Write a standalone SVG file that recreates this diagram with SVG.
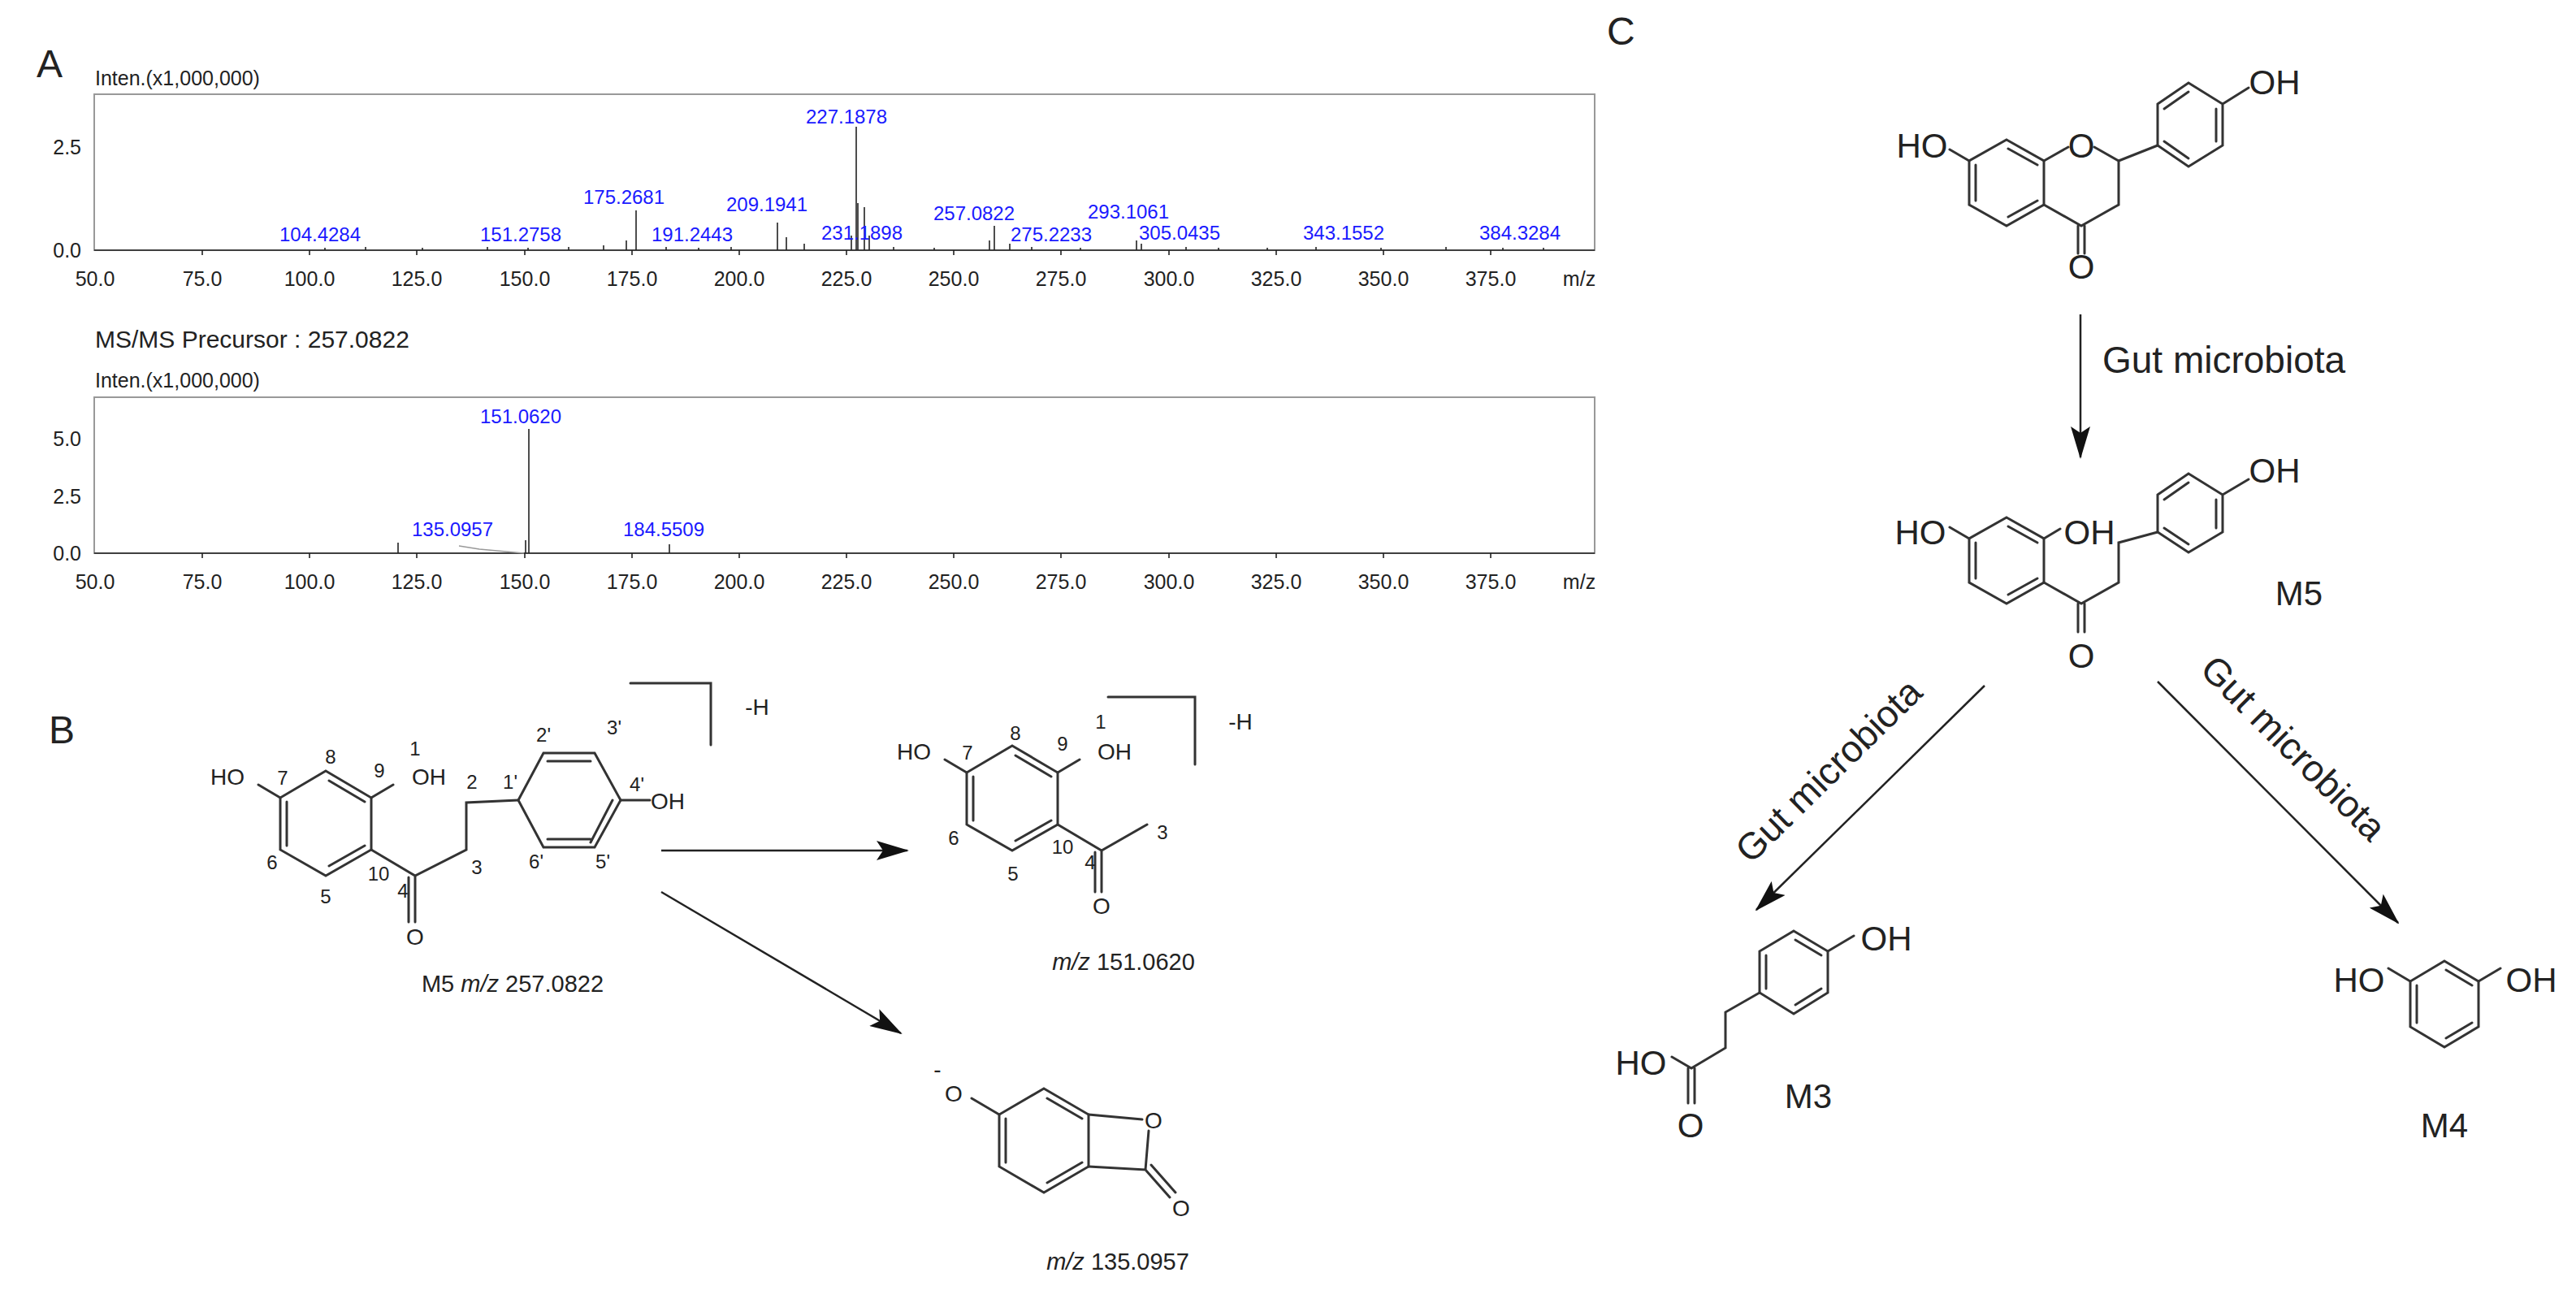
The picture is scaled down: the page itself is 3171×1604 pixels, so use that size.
<svg xmlns="http://www.w3.org/2000/svg" width="3171" height="1604" viewBox="0 0 3171 1604">
<defs>
<style>
text{font-family:"Liberation Sans",Arial,sans-serif;fill:#222}
.pl{font-size:48px}
.ax{font-size:25px}
.pk{font-size:24px;fill:#1a1aff;text-anchor:middle}
.b{fill:none;stroke:#333;stroke-width:3;stroke-linecap:round}
.sp{fill:none;stroke:#222;stroke-width:1.6}
.box{fill:none;stroke:#999;stroke-width:2}
.bt{font-size:28px;text-anchor:middle}
.bn{font-size:24px;text-anchor:middle}
.ct{font-size:42px;text-anchor:middle}
.gm{font-size:46px}
.ar{fill:none;stroke:#222;stroke-width:2.5}
</style>
<marker id="ah" viewBox="0 0 40 24" refX="38" refY="12" markerWidth="40" markerHeight="24" orient="auto" markerUnits="userSpaceOnUse"><path d="M0,0 L40,12 L0,24 L8,12 z" fill="#111"/></marker>
</defs>

<g id="panelA">
<text class="pl" x="45" y="95">A</text>
<text class="ax" x="117" y="105">Inten.(x1,000,000)</text>
<rect class="box" x="116" y="116" width="1847" height="192"/>
<line class="sp" x1="116" y1="308" x2="1963" y2="308"/>
<text class="ax" x="100" y="190" text-anchor="end">2.5</text>
<text class="ax" x="100" y="317" text-anchor="end">0.0</text>
<g class="ax" text-anchor="middle">
<text x="117" y="352">50.0</text><text x="249" y="352">75.0</text><text x="381" y="352">100.0</text><text x="513" y="352">125.0</text><text x="646" y="352">150.0</text><text x="778" y="352">175.0</text><text x="910" y="352">200.0</text><text x="1042" y="352">225.0</text><text x="1174" y="352">250.0</text><text x="1306" y="352">275.0</text><text x="1439" y="352">300.0</text><text x="1571" y="352">325.0</text><text x="1703" y="352">350.0</text><text x="1835" y="352">375.0</text><text x="1944" y="352">m/z</text>
</g>
<path class="sp" d="M249,308v6M381,308v6M513,308v6M646,308v6M778,308v6M910,308v6M1042,308v6M1174,308v6M1306,308v6M1439,308v6M1571,308v6M1703,308v6M1835,308v6"/>
<path class="sp" d="M1054,308V156M1056,308V250M783,308V259M771,308V296M957,308V274M968,308V292M1064,308V255M1070,308V290M1224,308V278M1218,308V296M1243,308V300M1399,308V296M1405,308V300M990,308V300M743,308V302M1048,308V290"/>
<path class="sp" stroke-width="1" d="M400,308v-3M450,308v-4M520,308v-3M600,308v-4M650,308v-3M700,308v-4M820,308v-4M860,308v-3M900,308v-4M1100,308v-4M1150,308v-3M1270,308v-4M1330,308v-3M1460,308v-4M1500,308v-3M1560,308v-3M1620,308v-4M1700,308v-3M1780,308v-4M1850,308v-3M1900,308v-3"/>
<text class="pk" x="1042" y="152">227.1878</text>
<text class="pk" x="768" y="251">175.2681</text>
<text class="pk" x="944" y="260">209.1941</text>
<text class="pk" x="1199" y="271">257.0822</text>
<text class="pk" x="1389" y="269">293.1061</text>
<text class="pk" x="394" y="297">104.4284</text>
<text class="pk" x="641" y="297">151.2758</text>
<text class="pk" x="852" y="297">191.2443</text>
<text class="pk" x="1061" y="295">231.1898</text>
<text class="pk" x="1294" y="297">275.2233</text>
<text class="pk" x="1452" y="295">305.0435</text>
<text class="pk" x="1654" y="295">343.1552</text>
<text class="pk" x="1871" y="295">384.3284</text>

<text x="117" y="428" style="font-size:30px">MS/MS Precursor : 257.0822</text>
<text class="ax" x="117" y="477">Inten.(x1,000,000)</text>
<rect class="box" x="116" y="489" width="1847" height="192"/>
<line class="sp" x1="116" y1="681" x2="1963" y2="681"/>
<text class="ax" x="100" y="549" text-anchor="end">5.0</text>
<text class="ax" x="100" y="620" text-anchor="end">2.5</text>
<text class="ax" x="100" y="690" text-anchor="end">0.0</text>
<g class="ax" text-anchor="middle">
<text x="117" y="725">50.0</text><text x="249" y="725">75.0</text><text x="381" y="725">100.0</text><text x="513" y="725">125.0</text><text x="646" y="725">150.0</text><text x="778" y="725">175.0</text><text x="910" y="725">200.0</text><text x="1042" y="725">225.0</text><text x="1174" y="725">250.0</text><text x="1306" y="725">275.0</text><text x="1439" y="725">300.0</text><text x="1571" y="725">325.0</text><text x="1703" y="725">350.0</text><text x="1835" y="725">375.0</text><text x="1944" y="725">m/z</text>
</g>
<path class="sp" d="M249,681v6M381,681v6M513,681v6M646,681v6M778,681v6M910,681v6M1042,681v6M1174,681v6M1306,681v6M1439,681v6M1571,681v6M1703,681v6M1835,681v6"/>
<path class="sp" d="M651,681V528M647,681V665M490,681V668M824,681V670"/>
<path fill="none" stroke="#999" stroke-width="1.5" d="M565,672 L590,676 L645,681"/>
<text class="pk" x="641" y="521">151.0620</text>
<text class="pk" x="557" y="660">135.0957</text>
<text class="pk" x="817" y="660">184.5509</text>
</g>

<g id="panelB">
<text class="pl" x="60" y="915">B</text>
</g>

<g id="M5-frag">
<path class="b" d="M401,949 L457,982 L457,1046 L401,1078 L345,1046 L345,982 Z M405,961 L449,987 M353,987 L353,1041 M405,1066 L449,1041"/>
<path class="b" d="M345,982 L318,966 M457,982 L484,966 M457,1046 L511,1078 L574,1046 L574,988 L638,985 M511,1078 V1135 M503,1080 V1135"/>
<path class="b" d="M638,985 L669,927 L732,927 L764,985 L732,1043 L669,1043 Z M674,937 L727,937 M674,1033 L727,1033 M754,985 L727,1037"/>
<path class="b" d="M764,985 L800,985"/>
<path class="b" d="M776,841 H875 V917"/>
<text class="bt" x="280" y="966">HO</text>
<text class="bt" x="528" y="966">OH</text>
<text class="bt" x="822" y="996">OH</text>
<text class="bt" x="511" y="1163">O</text>
<text class="bt" x="932" y="880">-H</text>
<g class="bn">
<text x="511" y="930">1</text><text x="467" y="957">9</text><text x="407" y="940">8</text><text x="348" y="966">7</text>
<text x="335" y="1070">6</text><text x="401" y="1112">5</text><text x="466" y="1084">10</text><text x="496" y="1105">4</text>
<text x="587" y="1076">3</text><text x="581" y="971">2</text><text x="628" y="971">1'</text><text x="669" y="913">2'</text>
<text x="756" y="904">3'</text><text x="784" y="974">4'</text><text x="742" y="1069">5'</text><text x="660" y="1069">6'</text>
</g>
<text x="631" y="1221" style="font-size:29px;text-anchor:middle">M5 <tspan font-style="italic">m/z</tspan> 257.0822</text>
</g>

<g id="frag151">
<path class="b" d="M1246,918 L1302,951 L1302,1015 L1246,1047 L1190,1015 L1190,951 Z M1250,930 L1294,956 M1198,956 L1198,1010 M1250,1035 L1294,1010"/>
<path class="b" d="M1190,951 L1163,935 M1302,951 L1329,935 M1302,1015 L1356,1047 L1412,1015 M1356,1047 V1098 M1348,1049 V1098"/>
<path class="b" d="M1364,858 H1471 V941"/>
<text class="bt" x="1125" y="935">HO</text>
<text class="bt" x="1372" y="935">OH</text>
<text class="bt" x="1356" y="1125">O</text>
<text class="bt" x="1527" y="898">-H</text>
<g class="bn">
<text x="1355" y="897">1</text><text x="1308" y="924">9</text><text x="1250" y="911">8</text><text x="1191" y="935">7</text>
<text x="1174" y="1040">6</text><text x="1247" y="1084">5</text><text x="1308" y="1051">10</text><text x="1342" y="1070">4</text><text x="1431" y="1033">3</text>
</g>
<text x="1383" y="1194" style="font-size:29px;text-anchor:middle"><tspan font-style="italic">m/z</tspan> 151.0620</text>
</g>

<g id="frag135">
<path class="b" d="M1285,1340 L1340,1372 L1340,1436 L1285,1468 L1230,1436 L1230,1372 Z M1289,1352 L1332,1377 M1238,1377 L1238,1431 M1289,1456 L1332,1431"/>
<path class="b" d="M1230,1372 L1196,1352 M1340,1372 L1406,1378 M1340,1436 L1410,1440 L1414,1392 M1410,1440 L1440,1474 M1417,1434 L1447,1468"/>
<text class="bt" x="1174" y="1356">O</text>
<text class="bt" x="1154" y="1326">-</text>
<text class="bt" x="1420" y="1389">O</text>
<text class="bt" x="1454" y="1497">O</text>
<text x="1376" y="1563" style="font-size:29px;text-anchor:middle"><tspan font-style="italic">m/z</tspan> 135.0957</text>
</g>

<g id="panelC">
<text class="pl" x="1978" y="55">C</text>
</g>

<g id="naringenin">
<path class="b" d="M2470,172 L2516,198 L2516,252 L2470,278 L2424,252 L2424,198 Z M2432,203 L2432,247 M2472,267 L2508,247 M2472,183 L2508,203"/>
<path class="b" d="M2516,198 L2546,181 M2578,181 L2608,198 L2656,179 M2608,198 L2608,252 L2562,278 L2516,252 M2558,278 V312 M2566,278 V312 M2424,198 L2400,184"/>
<path class="b" d="M2656,128 L2694,102 L2736,128 L2736,179 L2694,205 L2656,179 Z M2664,134 L2694,113 M2728,134 L2728,174 M2664,174 L2694,195 M2736,128 L2768,108"/>
<text class="ct" x="2366" y="194">HO</text>
<text class="ct" x="2562" y="194">O</text>
<text class="ct" x="2562" y="343">O</text>
<text class="ct" x="2800" y="116">OH</text>
</g>

<g id="M5">
<path class="b" d="M2470,637 L2516,663 L2516,717 L2470,743 L2424,717 L2424,663 Z M2432,668 L2432,712 M2472,732 L2508,712 M2472,648 L2508,668"/>
<path class="b" d="M2424,663 L2400,649 M2516,663 L2536,651 M2516,717 L2562,743 L2608,717 L2608,668 L2656,655 M2558,743 V778 M2566,743 V778"/>
<path class="b" d="M2656,609 L2694,583 L2736,609 L2736,655 L2694,680 L2656,655 Z M2664,615 L2694,594 M2728,615 L2728,650 M2664,650 L2694,670 M2736,609 L2768,590"/>
<text class="ct" x="2364" y="670">HO</text>
<text class="ct" x="2572" y="670">OH</text>
<text class="ct" x="2562" y="822">O</text>
<text class="ct" x="2800" y="594">OH</text>
<text class="ct" x="2830" y="745">M5</text>
</g>

<g id="M3">
<path class="b" d="M2208,1146 L2250,1171 L2250,1222 L2208,1248 L2166,1222 L2166,1171 Z M2174,1176 L2174,1217 M2210,1237 L2242,1217 M2210,1157 L2242,1176"/>
<path class="b" d="M2250,1171 L2282,1152 M2166,1222 L2124,1246 L2124,1290 L2082,1315 L2058,1301 M2078,1315 V1358 M2086,1315 V1358"/>
<text class="ct" x="2322" y="1170">OH</text>
<text class="ct" x="2020" y="1323">HO</text>
<text class="ct" x="2081" y="1400">O</text>
<text class="ct" x="2226" y="1364">M3</text>
</g>

<g id="M4">
<path class="b" d="M3009,1183 L3051,1208 L3051,1264 L3009,1289 L2967,1264 L2967,1208 Z M2975,1213 L2975,1259 M3011,1278 L3043,1259 M3011,1194 L3043,1213"/>
<path class="b" d="M2967,1208 L2940,1192 M3051,1208 L3078,1192"/>
<text class="ct" x="2904" y="1221">HO</text>
<text class="ct" x="3116" y="1221">OH</text>
<text class="ct" x="3009" y="1400">M4</text>
</g>

<g id="connectors">
<line class="ar" x1="814" y1="1047" x2="1117" y2="1047" marker-end="url(#ah)"/>
<line class="ar" x1="814" y1="1098" x2="1109" y2="1272" marker-end="url(#ah)"/>
<line class="ar" x1="2561" y1="387" x2="2561" y2="563" marker-end="url(#ah)"/>
<line class="ar" x1="2443" y1="844" x2="2162" y2="1120" marker-end="url(#ah)"/>
<line class="ar" x1="2656" y1="839" x2="2952" y2="1136" marker-end="url(#ah)"/>
<text class="gm" x="2588" y="459">Gut microbiota</text>
<text class="gm" text-anchor="middle" transform="translate(2262,960) rotate(-44.5)">Gut microbiota</text>
<text class="gm" text-anchor="middle" transform="translate(2812,932) rotate(45)">Gut microbiota</text>
</g>
</svg>
